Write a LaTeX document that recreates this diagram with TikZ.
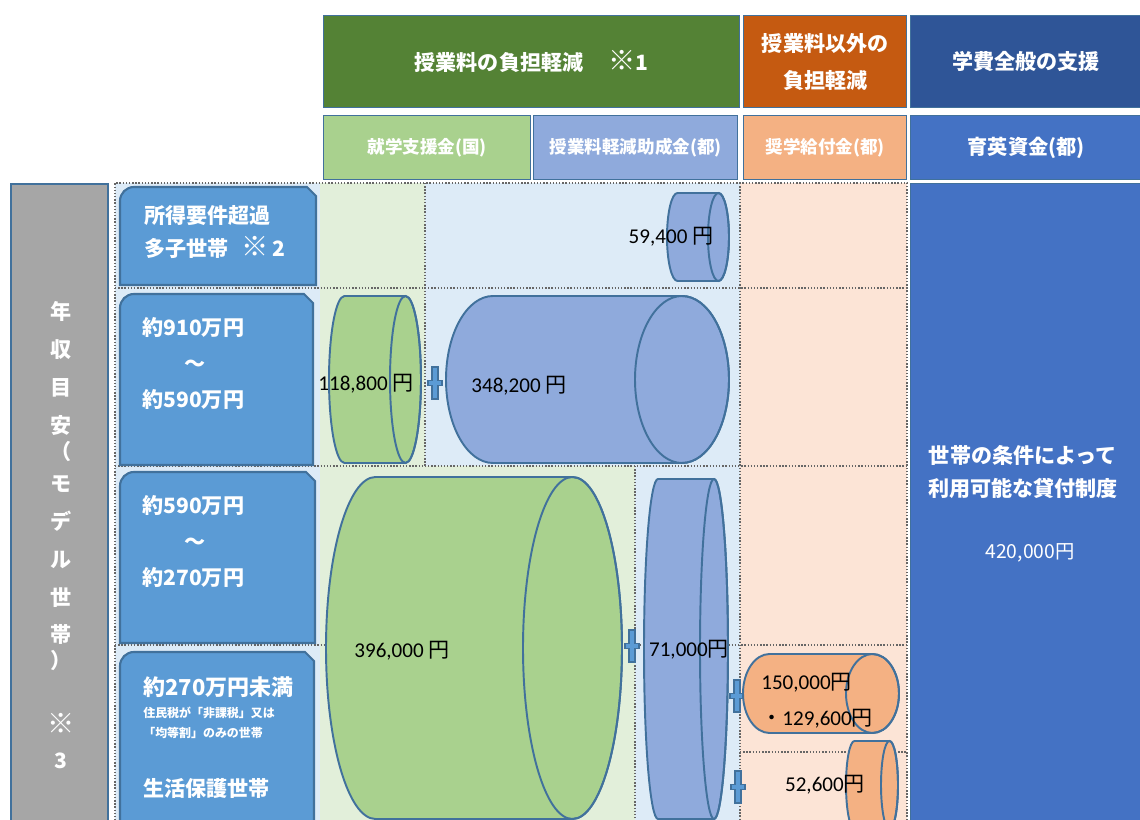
\documentclass[tikz,border=0pt]{standalone}
\usepackage{fontspec}
\setmainfont{Carlito}
\newfontfamily\jp{Noto Sans CJK JP}
\usepackage{tikz}
\definecolor{hdrgreen}{RGB}{84, 130, 53}
\definecolor{hdrorange}{RGB}{197, 90, 17}
\definecolor{hdrnavy}{RGB}{47, 85, 151}
\definecolor{subgreen}{RGB}{169, 209, 142}
\definecolor{subblue}{RGB}{143, 170, 220}
\definecolor{suborange}{RGB}{244, 177, 131}
\definecolor{loanblue}{RGB}{68, 114, 196}
\definecolor{edgeblue}{RGB}{65, 113, 156}
\definecolor{labelblue}{RGB}{91, 155, 213}
\definecolor{bggreen}{RGB}{226, 239, 218}
\definecolor{bgblue}{RGB}{221, 235, 247}
\definecolor{bgorange}{RGB}{252, 228, 214}
\definecolor{bargray}{RGB}{166, 166, 166}

\newlength{\px}
\setlength{\px}{0.02cm}
% big reference mark
\newcommand{\kome}{{\fontsize{15.5}{15}\selectfont ※}}
% cylinder lying on its side: fill, left, right, top, bottom, end radius
\newcommand{\drawcyl}[6]{%
  \filldraw[cylline, fill=#1] ({#2+#6},#4) -- ({#3-#6},#4)
    arc[start angle=-90, end angle=90, x radius=#6, y radius={(#5-#4)/2}]
    -- ({#2+#6},#5)
    arc[start angle=90, end angle=270, x radius=#6, y radius={(#5-#4)/2}] -- cycle;
  \draw[cylline] ({#3-#6},{(#4+#5)/2}) ellipse[x radius=#6, y radius={(#5-#4)/2}];
}
% plus sign between amounts
\newcommand{\plusmark}[2]{%
  \filldraw[plusstyle] ({#1-3},{#2-16}) -- ({#1+3},{#2-16}) -- ({#1+3},{#2-2.5})
    -- ({#1+7},{#2-2.5}) -- ({#1+7},{#2+2.5}) -- ({#1+3},{#2+2.5}) -- ({#1+3},{#2+16})
    -- ({#1-3},{#2+16}) -- ({#1-3},{#2+2.5}) -- ({#1-7},{#2+2.5}) -- ({#1-7},{#2-2.5})
    -- ({#1-3},{#2-2.5}) -- cycle;
}
% income label: left, right, top, bottom
\newcommand{\labelbox}[4]{%
  \filldraw[lblbox] (#1,#4) -- (#1,{#3+14}) arc[start angle=180, end angle=270, radius=14]
    -- ({#2-9},#3) -- (#2,{#3+9}) -- (#2,#4) -- cycle;
}

\begin{document}
\begin{tikzpicture}[x=0.02cm, y=-0.02cm,
    hdr/.style={draw=edgeblue, line width=0.8pt, inner sep=0pt, text=white, align=center,
      anchor=north west, font=\jp\bfseries\fontsize{12}{21}\selectfont},
    sub/.style={hdr, minimum height=64\px, font=\jp\bfseries\fontsize{10}{12}\selectfont},
    lblbox/.style={draw=edgeblue, line width=1.2pt, fill=labelblue},
    lbltext/.style={anchor=west, text=white, align=left, inner sep=0pt,
      font=\jp\bfseries\fontsize{12}{20.5}\selectfont},
    cylline/.style={draw=edgeblue, line width=1.1pt},
    num/.style={inner sep=0pt, font=\fontsize{12}{20.4}\selectfont},
    grid/.style={densely dotted, line width=0.8pt, black!60},
    plusstyle/.style={draw=edgeblue, fill=labelblue, line width=0.6pt}]
  \useasboundingbox (0,0) rectangle (1140,820);
  \clip (0,0) rectangle (1140,820);
  \fill[white] (0,0) rectangle (1140,820);

  % Header row
  \node[hdr, fill=hdrgreen, minimum width=416\px, minimum height=92\px] (tuition) at (323,15)
    {授業料の負担軽減\hspace{1.2em}\kome 1};
  \node[hdr, fill=hdrorange, minimum width=163\px, minimum height=92\px] (other) at (743,15)
    {授業料以外の\\負担軽減};
  \node[hdr, fill=hdrnavy, minimum width=231\px, minimum height=92\px] (general) at (910,15)
    {学費全般の支援};

  % Sub headers
  \node[sub, fill=subgreen, minimum width=207\px] (natgrant) at (323,115) {就学支援金(国)};
  \node[sub, fill=subblue, minimum width=204\px] (metgrant) at (533,115) {授業料軽減助成金(都)};
  \node[sub, fill=suborange, minimum width=163\px] (scholar) at (743,115) {奨学給付金(都)};
  \node[sub, fill=loanblue, minimum width=231\px,
    font=\jp\bfseries\fontsize{11.5}{13}\selectfont] (ikuei) at (910,115) {育英資金(都)};

  % Income bar
  \node[fill=bargray, draw=edgeblue, line width=1.2pt, inner sep=0pt, anchor=north west,
    minimum width=97\px, minimum height=660\px] (incomebar) at (10,183) {};
  \node[text=white, align=center, inner sep=0pt, font=\jp\bfseries\fontsize{12}{21.5}\selectfont]
    (incometext) at (61,535)
    {年\\収\\目\\安\\[-6.2pt]（\\[-3.4pt]モ\\デ\\ル\\世\\帯\\[-6.8pt]）\\[15.3pt]\kome\\[-1.7pt]3};

  % Loan column
  \node[fill=loanblue, draw=edgeblue, line width=0.8pt, inner sep=0pt, anchor=north west,
    minimum width=231\px, minimum height=660\px] (loanbox) at (910,183) {};
  \node[text=white, align=center, inner sep=0pt, font=\jp\bfseries\fontsize{12}{19.3}\selectfont]
    (loantext) at (1023,472) {世帯の条件によって\\利用可能な貸付制度};
  \node[text=white, inner sep=0pt, font=\jp\fontsize{11}{13}\selectfont]
    (loanamount) at (1030,553) {420,000円};

  % Table cells
  \fill[bgblue] (115,183) rectangle (320,830);
  \fill[bggreen] (320,183) rectangle (425,466);
  \fill[bggreen] (320,466) rectangle (635,830);
  \fill[bgblue] (425,183) rectangle (740,466);
  \fill[bgblue] (635,466) rectangle (740,830);
  \fill[bgorange] (740,183) rectangle (907,830);
  \draw[grid] (115,830) -- (115,183) -- (907,183) -- (907,830);
  \draw[grid] (115,288) -- (907,288);
  \draw[grid] (115,466) -- (907,466);
  \draw[grid] (115,645) -- (907,645);
  \draw[grid] (740,752) -- (907,752);
  \draw[grid] (425,183) -- (425,466);
  \draw[grid] (635,466) -- (635,830);
  \draw[grid] (740,183) -- (740,830);

  % Income labels
  \labelbox{120}{316}{187}{285}
  \labelbox{120}{313}{294}{465}
  \labelbox{120}{315}{472}{643}
  \labelbox{120}{314}{652}{840}
  \node[lbltext, font=\jp\bfseries\fontsize{12}{19.3}\selectfont] (excess) at (144,232)
    {所得要件超過\\多子世帯\hspace{0.6em}\kome\,2};
  \node[lbltext] (upper) at (142,363) {約910万円\\\hspace*{2em}～\\約590万円};
  \node[lbltext] (middle) at (142,541) {約590万円\\\hspace*{2em}～\\約270万円};
  \node[lbltext, font=\jp\bfseries\fontsize{12.5}{14}\selectfont] (exempt) at (143,687) {約270万円未満};
  \node[lbltext, font=\jp\bfseries\fontsize{6.8}{11.3}\selectfont] (taxnote) at (143,723)
    {住民税が「非課税」又は\\「均等割」のみの世帯};
  \node[lbltext] (welfare) at (143,788) {生活保護世帯};

  % Amounts
  \drawcyl{subblue}{667}{729}{193}{281}{10.5}
  \node[num] (multi) at (671,237) {59,400 {\jp 円}};
  \drawcyl{subgreen}{329}{421}{296}{463}{15.5}
  \node[num] (natupper) at (366,384) {118,800 {\jp 円}};
  \plusmark{435}{383}
  \drawcyl{subblue}{446}{729}{296}{463}{47}
  \node[num] (metupper) at (519,386) {348,200 {\jp 円}};
  \drawcyl{subgreen}{326}{622}{477}{819}{49.5}
  \node[num] (natlower) at (402,651) {396,000 {\jp 円}};
  \plusmark{632}{646}
  \drawcyl{subblue}{644}{728}{479}{819}{14}
  \node[num] (metlower) at (689,650) {71,000{\jp 円}};
  \plusmark{737}{696}
  \drawcyl{suborange}{743}{899}{654}{733}{26.5}
  \node[num, anchor=west, align=left] (benefit) at (761,701) {150,000{\jp 円}\\{\jp ・}129,600{\jp 円}};
  \plusmark{738}{787}
  \drawcyl{suborange}{846}{898}{741}{829}{8.5}
  \node[num] (welfarebenefit) at (825,785) {52,600{\jp 円}};
\end{tikzpicture}
\end{document}
